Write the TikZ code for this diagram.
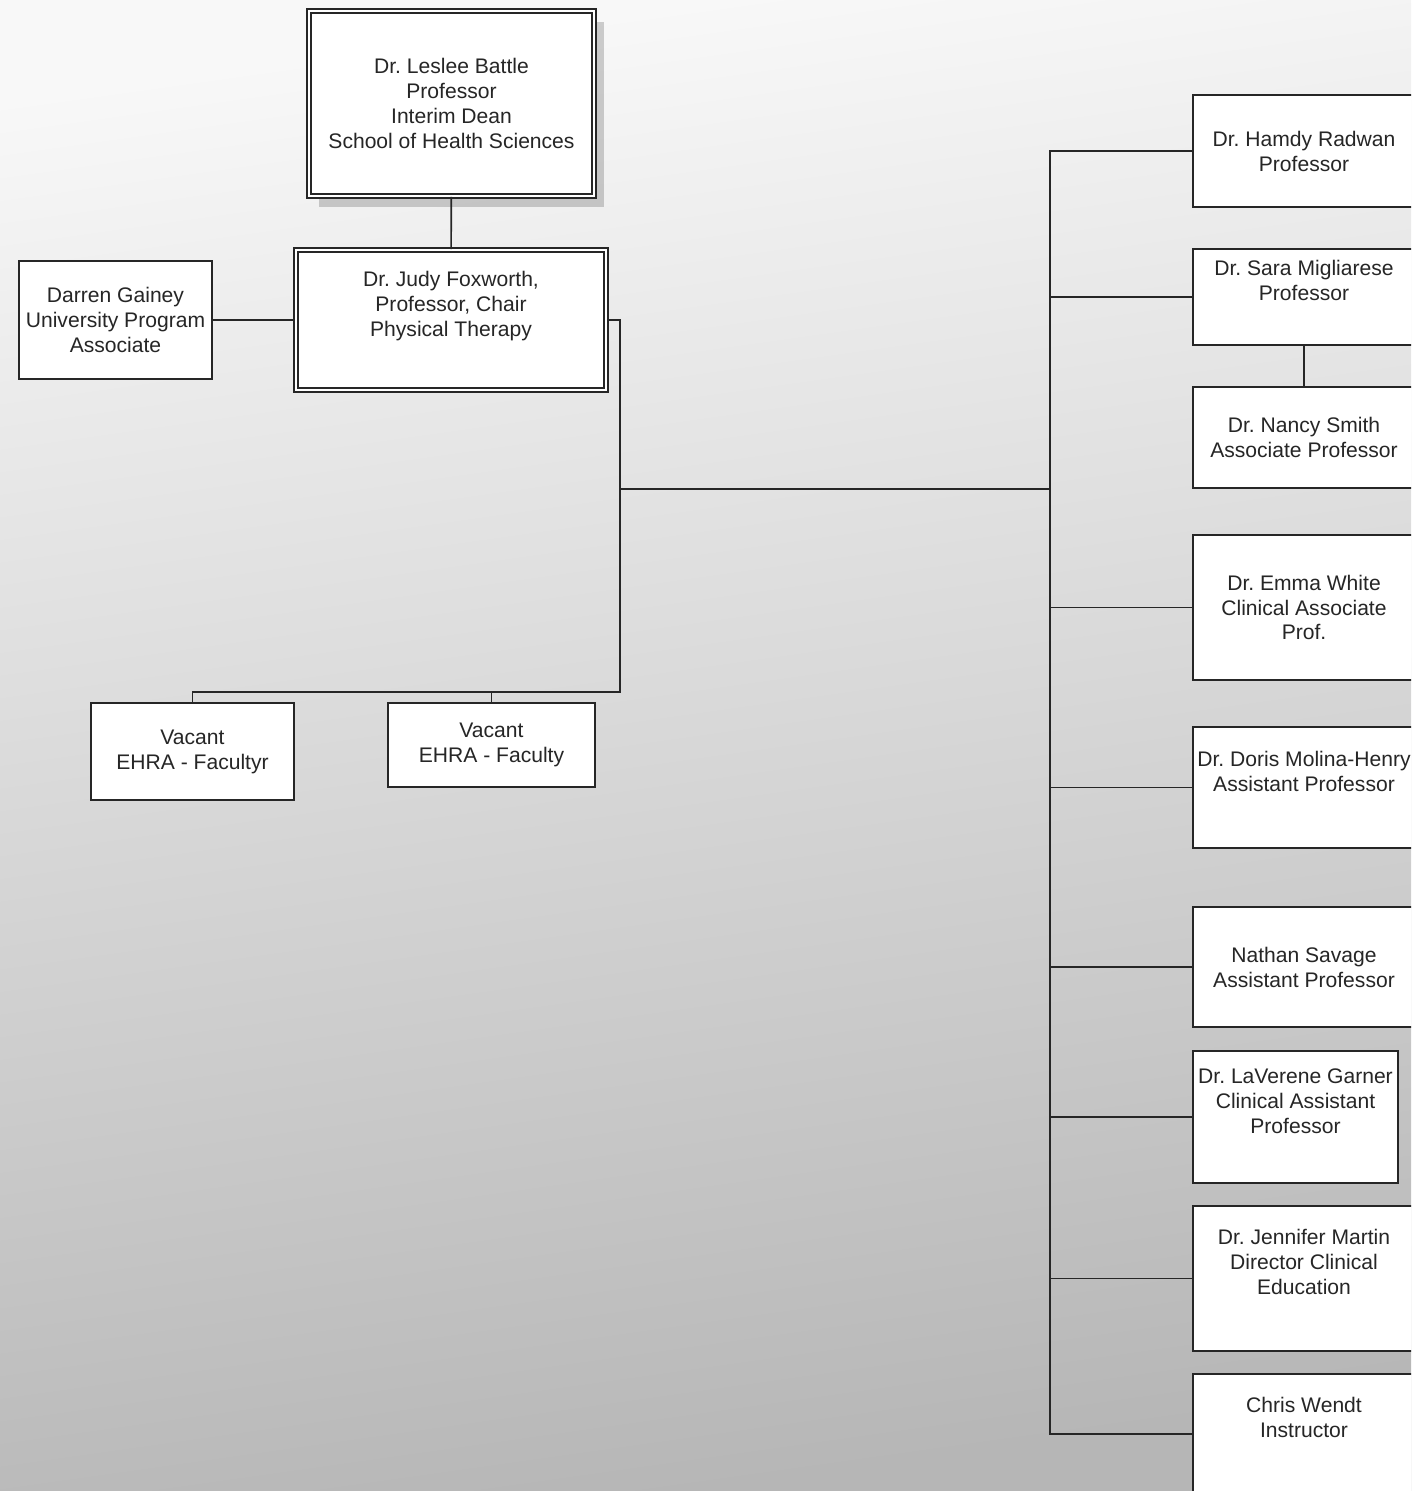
\documentclass[tikz,border=0pt]{standalone}
\usepackage{fontspec}
\setmainfont{Liberation Sans}
\usetikzlibrary{shadows}
\definecolor{inkgray}{HTML}{262626}
\definecolor{bgtop}{HTML}{F8F8F8}
\definecolor{bgbottom}{HTML}{B6B6B6}
\frenchspacing
\begin{document}
\begin{tikzpicture}[
    x=0.02cm, y=-0.02cm,
    box/.style={draw=inkgray, fill=white, line width=0.9pt,
        align=center, inner sep=2pt, text=inkgray,
        font=\fontsize{12}{14.2}\selectfont},
    dbox/.style={box, double=white, double distance=1.4pt},
    link/.style={draw=inkgray, line width=0.9pt}
]

% background
\clip (0,0) rectangle (1411,1491);
\fill[top color=bgtop, bottom color=bgbottom, shading angle=8] (0,0) rectangle (1411,1491);

% Dean
\node (dean) [dbox,
    minimum width=5.7cm,
    minimum height=3.7cm,
    drop shadow={shadow xshift=0.2cm, shadow yshift=-0.22cm, fill=black, opacity=0.18}
] at (451.5,103.5) {Dr. Leslee Battle\\Professor\\Interim Dean\\School of Health Sciences};

% Chair
\node (chair) [dbox,
    minimum width=6.2cm,
    minimum height=2.8cm
] at (451,320) {Dr. Judy Foxworth,\\Professor, Chair\\Physical Therapy\\\strut};

\node (darren) [box,
    minimum width=3.86cm,
    minimum height=2.36cm
] at (115.5,320) {Darren Gainey\\University Program\\Associate};

% Vacant positions
\node (vacant1) [box,
    minimum width=4.06cm,
    minimum height=1.94cm
] at (192.5,751.5) {Vacant\\EHRA - Facultyr};

\node (vacant2) [box,
    minimum width=4.14cm,
    minimum height=1.68cm
] at (491.5,745) {Vacant\\EHRA - Faculty};

% Faculty column
\node (hamdy) [box,
    minimum width=4.44cm,
    minimum height=2.24cm
] at (1304,151) {Dr. Hamdy Radwan\\Professor};

\node (sara) [box,
    minimum width=4.44cm,
    minimum height=1.92cm
] at (1304,297) {Dr. Sara Migliarese\\Professor\\\strut};

\node (nancy) [box,
    minimum width=4.44cm,
    minimum height=2.02cm
] at (1304,437.5) {Dr. Nancy Smith\\Associate Professor};

\node (emma) [box,
    minimum width=4.44cm,
    minimum height=2.9cm
] at (1304,607.5) {Dr. Emma White\\Clinical Associate\\Prof.};

\node (doris) [box,
    inner xsep=0pt,
    minimum width=4.44cm,
    minimum height=2.42cm
] at (1304,787.5) {Dr. Doris Molina-Henry\\Assistant Professor\\\strut};

\node (nathan) [box,
    minimum width=4.44cm,
    minimum height=2.4cm
] at (1304,967) {Nathan Savage\\Assistant Professor};

\node (laverene) [box,
    minimum width=4.1cm,
    minimum height=2.64cm
] at (1295.5,1117) {Dr. LaVerene Garner\\Clinical Assistant\\Professor\\\strut};

\node (jennifer) [box,
    minimum width=4.44cm,
    minimum height=2.9cm
] at (1304,1278.5) {Dr. Jennifer Martin\\Director Clinical\\Education\\\strut};

\node (chris) [box,
    minimum width=4.44cm,
    minimum height=2.4cm
] at (1304,1434) {Chris Wendt\\Instructor\\\strut};

% bends of the lines
\coordinate (vacbus) at (620,692);
\coordinate (split) at (620,489);
\coordinate (facbus) at (1050,489);

\draw [link] (dean) -- (chair);
\draw [link] (darren) -- (chair);
\draw [link] (chair.east) -| (vacbus) -| (vacant1.north);
\draw [link] (vacbus) -| (vacant2.north);
\draw [link] (split) -- (facbus);
\foreach \who in {hamdy,sara,emma,doris,nathan,laverene,jennifer,chris}
    \draw [link] (facbus) |- (\who.west);
\draw [link] (sara) -- (nancy);

\end{tikzpicture}
\end{document}
